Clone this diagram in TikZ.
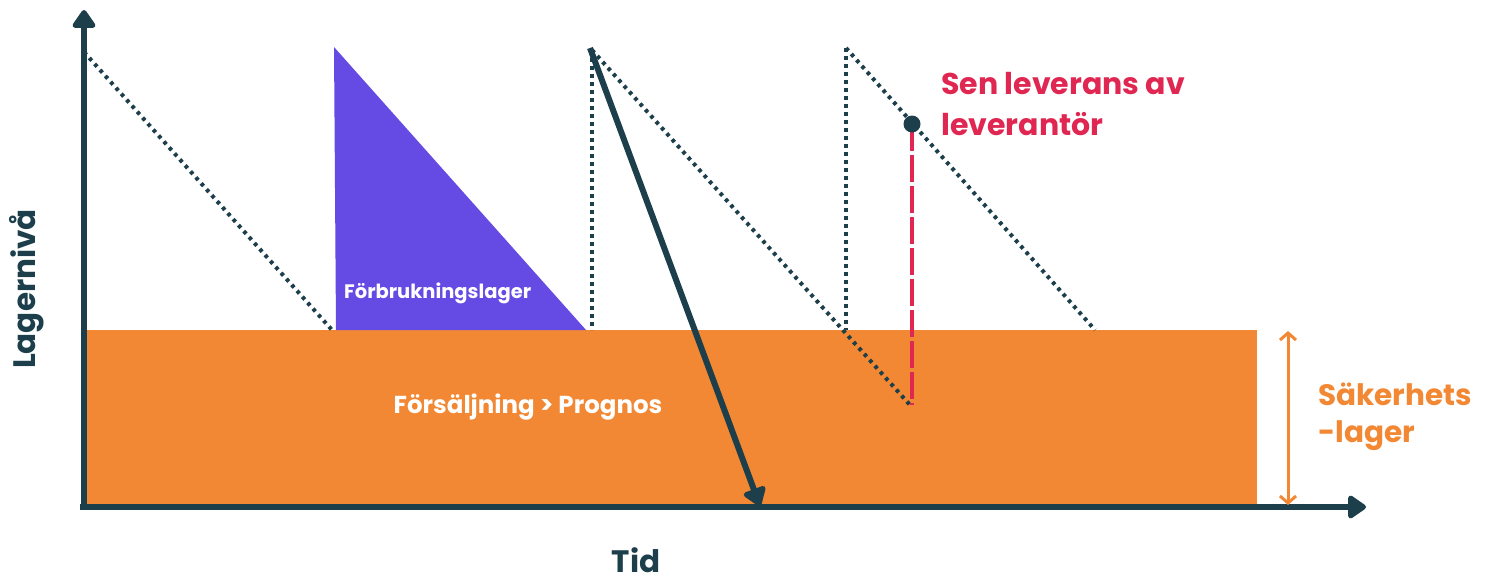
\documentclass[tikz,border=0pt]{standalone}
\usepackage{fontspec}
\setmainfont{Poppins}
\usetikzlibrary{arrows.meta}
\definecolor{teal}{HTML}{1C3F4B}
\definecolor{orng}{HTML}{F28833}
\definecolor{purp}{HTML}{654BE3}
\definecolor{redc}{HTML}{DF2752}
\tikzset{
  axis/.style={teal, line width=6pt, -{Triangle[width=26pt,length=20pt,round]}},
  dotline/.style={teal, line width=4pt, dash pattern=on 3.6pt off 4.4pt},
  lbl/.style={font=\bfseries, inner sep=0pt},
}
\begin{document}
\begin{tikzpicture}[x=1pt,y=-1pt]
\useasboundingbox (0,0) rectangle (1488,578);
% orange safety stock area
\fill[orng] (84,330) rectangle (1257,505);
% purple triangle
\fill[purp] (334,47) -- (336,330) -- (586,330) -- cycle;
% coordinates
\coordinate (o) at (84,507);
\coordinate (ytip) at (84,10);
\coordinate (xtip) at (1366,507);
\coordinate (d1a) at (84,52);
\coordinate (d1b) at (332,330);
\coordinate (d2a) at (592,50);
\coordinate (d2v) at (592,330);
\coordinate (d2b) at (910,405);
\coordinate (d3a) at (846,48);
\coordinate (d3v) at (846,330);
\coordinate (d3b) at (1095,330);
\coordinate (late) at (912,124);
\coordinate (lateb) at (912,405);
\coordinate (sa) at (590,48);
\coordinate (sb) at (760,506);
\coordinate (ss1) at (1288,331);
\coordinate (ss2) at (1288,505);
% dotted lines
\draw[dotline] (d1a) -- (d1b);
\draw[dotline] (d2a) -- (d2b);
\draw[dotline] (d2a) -- (d2v);
\draw[dotline] (d3a) -- (d3v);
\draw[dotline] (d3a) -- (d3b);
% late delivery
\draw[redc, line width=3.5pt, dash pattern=on 27pt off 4pt] (late) -- (lateb);
\fill[teal] (late) circle (8.5pt);
% axes
\draw[axis] (o) -- (ytip);
\draw[axis] ([xshift=-4pt]o) -- (xtip);
% sales > forecast arrow
\draw[teal, line width=6pt, -{Triangle[width=26pt,length=20pt,round]}] (sa) -- (sb);
% safety stock arrow
\draw[orng, line width=3pt, {Straight Barb[length=7pt,width=16pt]}-{Straight Barb[length=7pt,width=16pt]}] (ss1) -- (ss2);
% labels
\node[lbl, text=redc, font=\fontsize{30}{36}\selectfont\bfseries, anchor=base west] (t1) at (941,95) {Sen leverans av};
\node[lbl, text=redc, font=\fontsize{30}{36}\selectfont\bfseries, anchor=base west] (t2) at (941,135) {leverantör};
\node[lbl, text=orng, font=\fontsize{29.5}{34}\selectfont\bfseries, anchor=base west] (s1) at (1318,405) {Säkerhets};
\node[lbl, text=orng, font=\fontsize{29.5}{34}\selectfont\bfseries, anchor=base west] (s2) at (1318,442) {-lager};
\node[lbl, text=white, font=\fontsize{24.5}{28}\selectfont\bfseries, anchor=base] (fp) at (528,413) {Försäljning > Prognos};
\node[lbl, text=white, font=\fontsize{19.5}{22}\selectfont\bfseries, anchor=base west] (fl) at (344,298) {Förbrukningslager};
\node[lbl, text=teal, font=\fontsize{31}{36}\selectfont\bfseries, anchor=base] (tid) at (636,572) {Tid};
\node[lbl, text=teal, font=\fontsize{31}{36}\selectfont\bfseries, anchor=base, rotate=90] (lag) at (35,289) {Lagernivå};
\end{tikzpicture}
\end{document}
